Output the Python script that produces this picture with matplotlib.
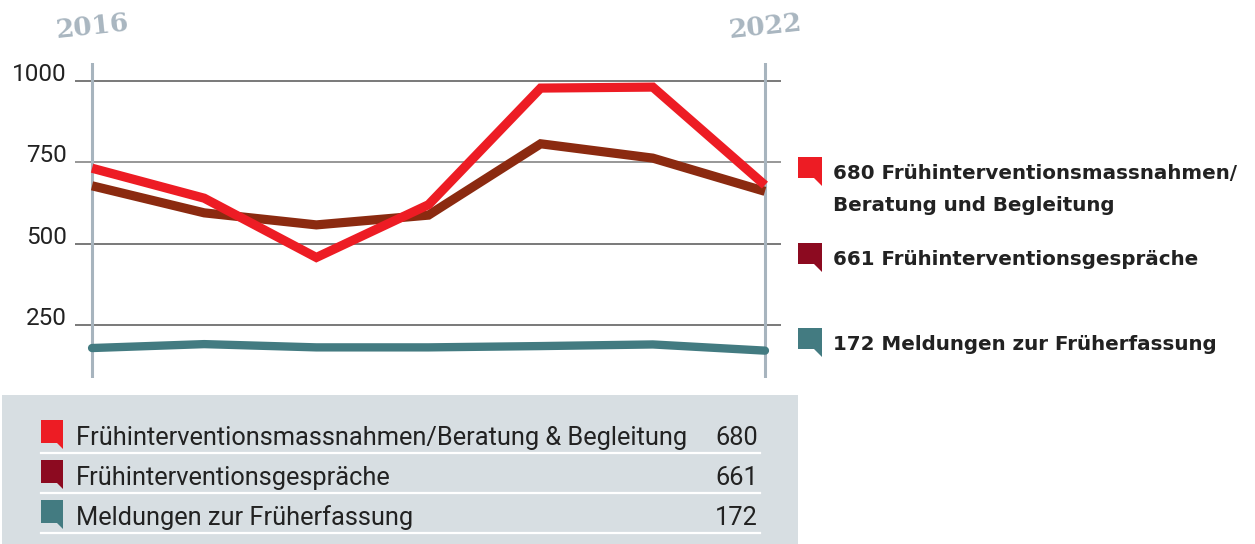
import matplotlib.pyplot as plt
from matplotlib.patches import Polygon, Rectangle
from matplotlib.lines import Line2D
import matplotlib.transforms as mtransforms

# --- Data
years = [2016, 2017, 2018, 2019, 2020, 2021, 2022]
massnahmen = [732, 640, 458, 620, 978, 981, 680]
gespraeche = [678, 595, 558, 588, 807, 763, 661]
meldungen = [180, 192, 182, 182, 186, 191, 172]

series_names = ['Frühinterventionsmassnahmen/Beratung & Begleitung',
                'Frühinterventionsgespräche',
                'Meldungen zur Früherfassung']
side_labels = ['680 Frühinterventionsmassnahmen/\nBeratung und Begleitung',
               '661 Frühinterventionsgespräche',
               '172 Meldungen zur Früherfassung']
totals = [680, 661, 172]
y_ticks = [250, 500, 750, 1000]

# --- Style
C_RED = '#ed1c24'
C_BROWN = '#8b2a10'
C_CRIMSON = '#8c0a20'
C_TEAL = '#437b81'
C_GRID_V = '#a7b4be'
C_BOX = '#d7dee2'
C_TEXT = '#222222'

W, H = 1255, 544
fig = plt.figure(figsize=(W / 100, H / 100), dpi=100)


def fx(px):
    return px / W


def fy(py):
    return 1 - py / H


def draw_icon(x0, top, w, h, tail, color):
    """Speech-bubble like legend marker, coordinates in pixels"""
    pts = [(x0, top), (x0 + w, top), (x0 + w, top + h + tail),
           (x0 + w - tail, top + h), (x0, top + h)]
    pts = [(fx(x), fy(y)) for x, y in pts]
    fig.add_artist(Polygon(pts, closed=True, facecolor=color, edgecolor='none',
                           transform=fig.transFigure))


# --- Main axes
ax = fig.add_axes([fx(75), fy(378), fx(781) - fx(75), fy(63) - fy(378)])
ax.set_xlim(2015.848, 2022.143)
ax.set_ylim(88, 1055)
for s in ax.spines.values():
    s.set_visible(False)
ax.set_xticks([])
ax.set_yticks(y_ticks)
ax.set_yticklabels([str(v) for v in y_ticks])
ax.tick_params(axis='y', length=0, pad=5.8, labelsize=17.5, labelcolor=C_TEXT)
for lab in ax.get_yticklabels():
    lab.set_verticalalignment('baseline')
    lab.set_fontfamily('Roboto')

for v in y_ticks:
    ax.axhline(v, color='#555555' if v != 750 else '#7a7a7a', lw=1.1, zorder=1)
for yr in (years[0], years[-1]):
    ax.axvline(yr, color=C_GRID_V, lw=2.2, zorder=1)

lw = 6.6
ax.plot(years, meldungen, color=C_TEAL, lw=6.0, solid_capstyle='round', zorder=3)
ax.plot(years, gespraeche, color=C_BROWN, lw=lw, solid_joinstyle='miter',
        solid_capstyle='butt', zorder=3)
ax.plot(years, massnahmen, color=C_RED, lw=lw, solid_joinstyle='miter',
        solid_capstyle='butt', zorder=4)

# --- Year labels
trans = mtransforms.blended_transform_factory(ax.transData, fig.transFigure)
for yr, ypx in ((years[0], 27), (years[-1], 27)):
    ax.text(yr, fy(ypx), str(yr), transform=trans, ha='center', va='center',
            rotation=6, fontsize=19, fontweight='heavy', family='DejaVu Serif',
            color='#a9b6c0', clip_on=False)

# --- Right side legend
icon_colors = [C_RED, C_CRIMSON, C_TEAL]
icon_tops = [157, 243, 328]
text_baselines = [179, 265, 350]
for col, top, base, lab in zip(icon_colors, icon_tops, text_baselines, side_labels):
    draw_icon(798, top, 24, 21, 8, col)
    lines = lab.split('\n')
    for i, line in enumerate(lines):
        fig.text(fx(833), fy(base + i * 32), line, ha='left', va='baseline',
                 fontsize=14.3, fontweight='bold', family='DejaVu Sans', color=C_TEXT)

# --- Bottom table
fig.add_artist(Rectangle((fx(2), fy(544)), fx(798) - fx(2), fy(395) - fy(544),
                         facecolor=C_BOX, edgecolor='none',
                         transform=fig.transFigure, zorder=0))
row_tops = [420, 460, 500]
for col, top, name, total in zip(icon_colors, row_tops, series_names, totals):
    draw_icon(41, top, 22, 23, 6, col)
    fig.text(fx(76), fy(top + 25), name, ha='left', va='baseline',
             fontsize=18.3, family='Roboto', color=C_TEXT)
    fig.text(fx(758), fy(top + 25), str(total), ha='right', va='baseline',
             fontsize=18.3, family='Roboto', color=C_TEXT)
    fig.add_artist(Line2D([fx(41), fx(760)], [fy(top + 33), fy(top + 33)],
                          color='white', lw=1.6, transform=fig.transFigure))

fig.savefig('out.png', dpi=100)
